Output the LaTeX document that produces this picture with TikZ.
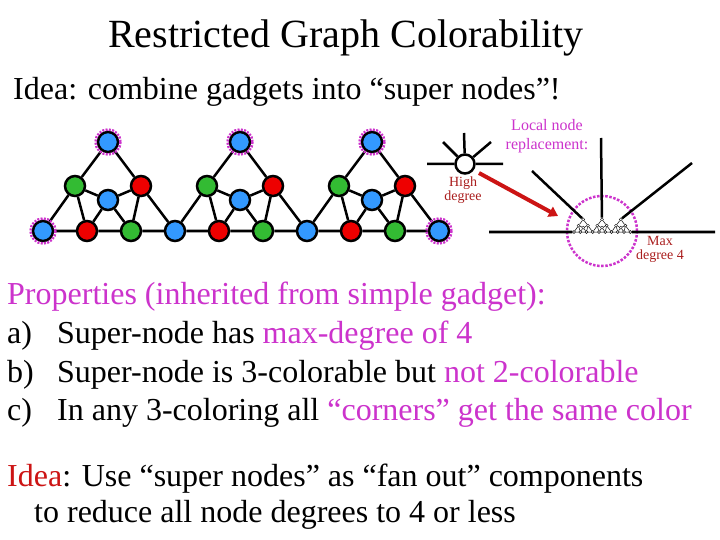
\documentclass[tikz,border=0pt]{standalone}
\usepackage{fontspec}
\setmainfont{Liberation Serif}
\usetikzlibrary{arrows.meta}
\definecolor{col0}{RGB}{51,153,255}
\definecolor{col1}{RGB}{238,0,0}
\definecolor{col2}{RGB}{51,187,51}
\definecolor{mag}{RGB}{204,51,204}
\definecolor{dred}{RGB}{170,30,30}
\definecolor{ired}{RGB}{204,20,20}
\tikzset{
  mainnode/.style={circle,draw=black,line width=2.5pt,minimum size=20pt,inner sep=0pt,fill=#1},
  mininode/.style={circle,draw=black,line width=0.4pt,minimum size=3pt,inner sep=0pt,fill=white},
  mainedge/.style={line width=2.5pt},
  miniedge/.style={line width=0.5pt},
  ringline/.style={draw=mag,line width=2.5pt,dash pattern=on 2pt off 1.3pt},
  bigring/.style={draw=mag,line width=2.5pt,dash pattern=on 2.5pt off 1.6pt},
}
% #1 prefix, #2 node style, #3 edge style
\newcommand\gadgetchain[3]{%
  \foreach \k in {0,1,2}{%
    \node[#2=col0] (#1T\k) at ({65+132*\k},-89) {};
    \node[#2=col2] (#1G\k) at ({32+132*\k},-45) {};
    \node[#2=col1] (#1R\k) at ({98+132*\k},-45) {};
    \node[#2=col0] (#1B\k) at ({65+132*\k},-31) {};
  }
  \foreach \i in {0,...,9}{%
    \pgfmathtruncatemacro\c{mod(\i,3)}
    \node[#2=col\c] (#1b\i) at ({44*\i},0) {};
  }
  \foreach \k in {0,1,2}{%
    \pgfmathtruncatemacro\a{3*\k}\pgfmathtruncatemacro\b{3*\k+1}%
    \pgfmathtruncatemacro\c{3*\k+2}\pgfmathtruncatemacro\d{3*\k+3}%
    \draw[#3] (#1T\k)--(#1G\k) (#1T\k)--(#1R\k) (#1G\k)--(#1B\k) (#1B\k)--(#1R\k)
      (#1G\k)--(#1b\a) (#1G\k)--(#1b\b) (#1B\k)--(#1b\b) (#1B\k)--(#1b\c)
      (#1R\k)--(#1b\c) (#1R\k)--(#1b\d)
      (#1b\a)--(#1b\b) (#1b\b)--(#1b\c) (#1b\c)--(#1b\d);
  }
}
\begin{document}
\begin{tikzpicture}[x=1pt,y=-1pt]
\useasboundingbox[fill=white] (0,0) rectangle (720,540);

% title and texts
\node[anchor=base,inner sep=0] (title) at (346,48) {\fontsize{40}{48}\selectfont Restricted Graph Colorability};
\node[anchor=base west,inner sep=0] (idea1) at (13,100) {\fontsize{32}{38}\selectfont Idea: combine gadgets into “super nodes”!};

% main chain
\begin{scope}[shift={(43,231)}]
  \gadgetchain{m}{mainnode}{mainedge}
\end{scope}
\foreach \n in {mT0,mT1,mT2,mb0,mb9} \draw[ringline] (\n.center) circle (12.5);

% high degree node
\node[circle,draw=black,line width=2.5pt,minimum size=19pt,inner sep=0pt,fill=white] (hd) at (465,164) {};
\coordinate (hl) at (427,164);
\coordinate (hr) at (503,164);
\coordinate (hu) at (464,133);
\coordinate (hul) at (443,142);
\coordinate (hur) at (491,142);
\draw[mainedge] (hd)--(hl) (hd)--(hr) (hd)--(hu) (hd)--(hul) (hd)--(hur);
\node[align=center,text=dred,font=\fontsize{14}{14}\selectfont,inner sep=0] (hdt) at (463,190) {High\\degree};

\node[align=center,text=mag,font=\fontsize{16}{19}\selectfont,inner sep=0] (lnr) at (547,136) {Local node\\replacement:};

% red arrow
\coordinate (a1) at (479,173);
\coordinate (a2) at (558,216);
\draw[ired,line width=4pt,-{Triangle[length=9pt,width=11pt]}] (a1)--(a2);

% replacement gadget
\begin{scope}[shift={(574,232)},scale=0.142]
  \gadgetchain{x}{mininode}{miniedge}
\end{scope}
\draw[bigring] (602,231) circle (35);
\coordinate (rl) at (489,232);
\coordinate (rr) at (715,232);
\coordinate (ul) at (532,171);
\coordinate (uv) at (601,138);
\coordinate (ur) at (692,163);
\draw[mainedge] (rl)--(xb0) (xb9)--(rr) (ul)--(xT0) (uv)--(xT1) (ur)--(xT2);
\node[align=center,text=dred,font=\fontsize{14}{14}\selectfont,inner sep=0] (mdt) at (660,249) {Max\\degree 4};

% properties
\node[anchor=base west,inner sep=0,text=mag] (prop) at (7,304) {\fontsize{32}{38}\selectfont Properties (inherited from simple gadget):};
\node[anchor=base west,inner sep=0] (la) at (7,343) {\fontsize{32}{38}\selectfont a)};
\node[anchor=base west,inner sep=0] (ta) at (57,343) {\fontsize{32}{38}\selectfont Super-node has \textcolor{mag}{max-degree of 4}};
\node[anchor=base west,inner sep=0] (lb) at (7,382) {\fontsize{32}{38}\selectfont b)};
\node[anchor=base west,inner sep=0] (tb) at (57,382) {\fontsize{32}{38}\selectfont Super-node is 3-colorable but \textcolor{mag}{not 2-colorable}};
\node[anchor=base west,inner sep=0] (lc) at (7,420) {\fontsize{32}{38}\selectfont c)};
\node[anchor=base west,inner sep=0] (tc) at (57,420) {\fontsize{32}{38}\selectfont In any 3-coloring all \textcolor{mag}{“corners” get the same color}};

% bottom idea
\node[anchor=base west,inner sep=0] (i2a) at (7,486) {\fontsize{32}{38}\selectfont \textcolor{ired}{Idea}: Use “super nodes” as “fan out” components};
\node[anchor=base west,inner sep=0] (i2b) at (34,522) {\fontsize{32}{38}\selectfont to reduce all node degrees to 4 or less};
\end{tikzpicture}
\end{document}
